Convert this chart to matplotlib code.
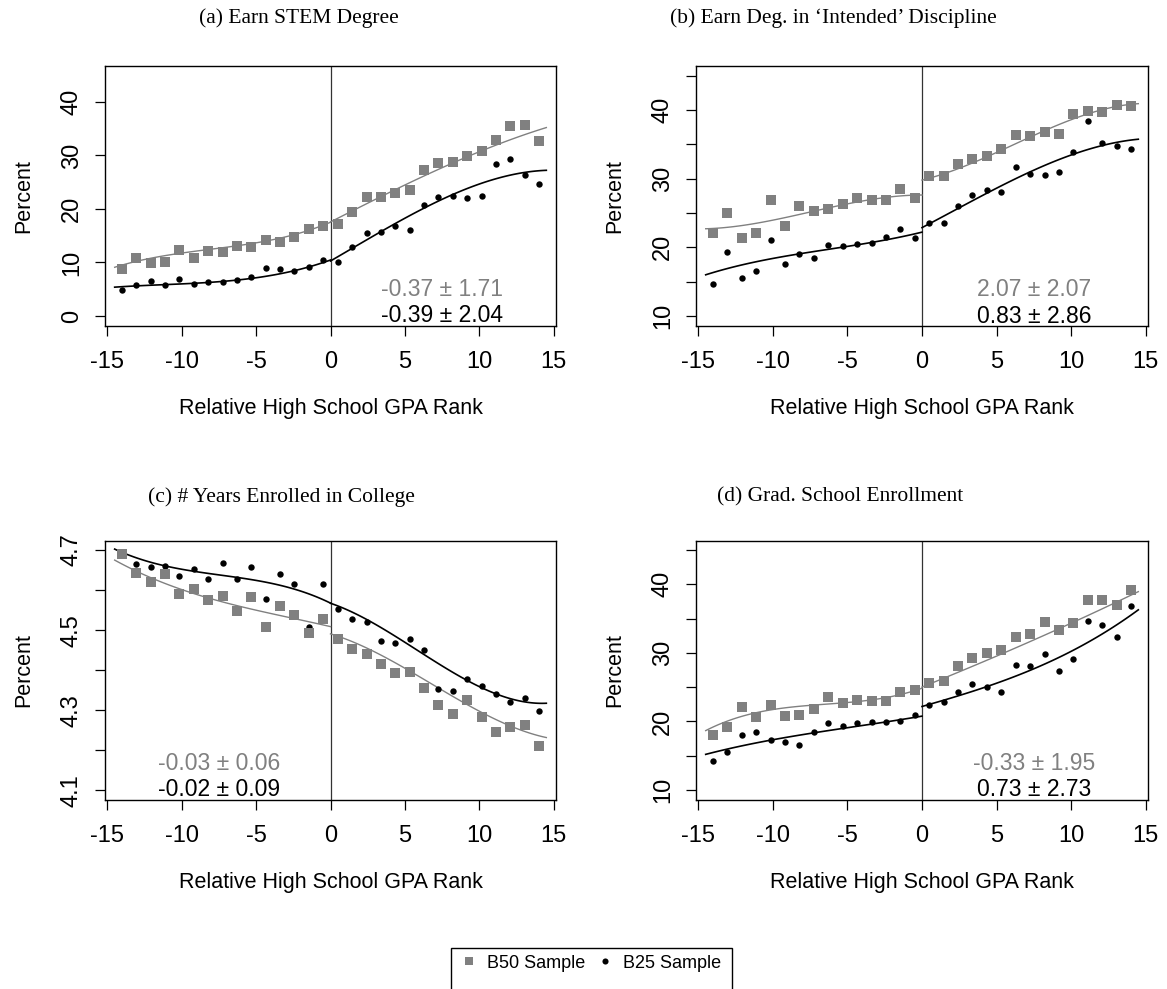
"""
Regression-discontinuity panels: four outcomes by relative high school GPA rank,
B50 sample (gray squares) vs B25 sample (black dots), with fitted curves.
"""

import numpy as np
import matplotlib
matplotlib.use("Agg")
import matplotlib.pyplot as plt
from matplotlib.lines import Line2D
from matplotlib.patches import Rectangle

plt.rcParams["font.family"] = ["Liberation Sans", "DejaVu Sans"]

# bin centres on the running variable
X_LEFT = [-14.02, -13.05, -12.08, -11.12, -10.15, -9.18, -8.22, -7.25,
          -6.28, -5.32, -4.35, -3.38, -2.42, -1.45, -0.48]
X_RIGHT = [0.48, 1.45, 2.42, 3.38, 4.35, 5.32, 6.28, 7.25,
           8.22, 9.18, 10.15, 11.12, 12.08, 13.05, 14.02]

KNOTS_LEFT = [-14.5, -10, -7.5, -5, -2.5, 0]
KNOTS_RIGHT = [0, 2.5, 5, 7.5, 10, 12.5, 14.5]

# (a) Earn STEM degree
a_b50 = [8.75, 10.75, 9.9, 10.1, 12.4, 10.8, 12.2, 11.9, 13.1, 12.8, 14.2, 13.9, 14.8, 16.3, 16.8,
         17.25, 19.4, 22.25, 22.25, 22.9, 23.6, 27.3, 28.5, 28.7, 29.9, 30.9, 32.9, 35.5, 35.6, 32.6]
a_b25 = [4.9, 5.75, 6.6, 5.7, 6.9, 5.9, 6.3, 6.4, 6.8, 7.3, 8.9, 8.75, 8.4, 9.1, 10.5,
         10.1, 12.9, 15.5, 15.7, 16.75, 16.1, 20.8, 22.25, 22.4, 22.0, 22.4, 28.3, 29.4, 26.25, 24.75]
a_fit_b50_l = [9.1, 11.75, 12.7, 13.6, 15.2, 17.5]
a_fit_b50_r = [17.5, 21.3, 24.25, 27.7, 30.8, 33.3, 35.2]
a_fit_b25_l = [5.4, 5.9, 6.5, 7.2, 8.3, 10.5]
a_fit_b25_r = [10.2, 14.6, 18.0, 21.75, 24.9, 26.4, 27.25]

# (b) Earn degree in intended discipline
b_b50 = [22.06, 25.07, 21.42, 22.06, 26.82, 23.08, 26.04, 25.31, 25.51, 26.24, 27.16, 26.87, 26.87, 28.52, 27.21,
         30.32, 30.32, 32.12, 32.9, 33.34, 34.31, 36.35, 36.2, 36.79, 36.54, 39.36, 39.85, 39.75, 40.72, 40.53]
b_b25 = [14.62, 19.29, 15.54, 16.51, 21.04, 17.58, 18.99, 18.46, 20.4, 20.21, 20.5, 20.6, 21.57, 22.69, 21.42,
         23.51, 23.61, 26.09, 27.55, 28.28, 27.99, 31.63, 30.71, 30.52, 30.95, 33.82, 38.44, 35.18, 34.79, 34.31]
b_fit_b50_l = [22.7, 24.0, 25.1, 26.3, 27.3, 27.6]
b_fit_b50_r = [29.74, 31.68, 33.72, 36.15, 38.78, 40.19, 40.92]
b_fit_b25_l = [16.0, 18.4, 19.3, 20.1, 21.1, 22.2]
b_fit_b25_r = [22.9, 25.7, 28.6, 31.3, 33.5, 34.9, 35.8]

# (c) years enrolled in college
c_b50 = [4.689, 4.642, 4.621, 4.639, 4.590, 4.603, 4.574, 4.584, 4.548, 4.583, 4.508, 4.561, 4.537, 4.492, 4.527,
         4.479, 4.454, 4.440, 4.415, 4.394, 4.396, 4.356, 4.312, 4.290, 4.325, 4.283, 4.246, 4.258, 4.264, 4.210]
c_b25 = [4.688, 4.666, 4.658, 4.661, 4.634, 4.652, 4.627, 4.667, 4.627, 4.658, 4.578, 4.640, 4.614, 4.509, 4.615,
         4.552, 4.529, 4.521, 4.474, 4.469, 4.479, 4.451, 4.354, 4.349, 4.378, 4.361, 4.340, 4.320, 4.330, 4.298]
c_fit_b50_l = [4.675, 4.600, 4.575, 4.549, 4.529, 4.509]
c_fit_b50_r = [4.492, 4.450, 4.409, 4.350, 4.296, 4.255, 4.232]
c_fit_b25_l = [4.702, 4.654, 4.635, 4.625, 4.604, 4.567]
c_fit_b25_r = [4.567, 4.525, 4.471, 4.409, 4.359, 4.326, 4.317]

# (d) grad school enrollment
d_b50 = [17.97, 19.24, 22.06, 20.6, 22.4, 20.79, 20.94, 21.86, 23.51, 22.69, 23.17, 22.93, 22.98, 24.24, 24.54,
         25.61, 25.95, 28.08, 29.25, 30.03, 30.37, 32.31, 32.7, 34.45, 33.38, 34.36, 37.76, 37.66, 37.03, 39.12]
d_b25 = [14.28, 15.54, 18.02, 18.41, 17.24, 17.05, 16.51, 18.46, 19.82, 19.33, 19.72, 19.97, 19.97, 20.01, 20.89,
         22.35, 22.88, 24.29, 25.51, 25.0, 24.24, 28.28, 28.04, 29.88, 27.31, 29.15, 34.6, 34.06, 32.31, 36.79]
d_fit_b50_l = [18.65, 21.76, 22.3, 22.74, 23.47, 24.83]
d_fit_b50_r = [25.07, 27.11, 29.45, 32.12, 34.31, 36.64, 39.02]
d_fit_b25_l = [15.2, 17.29, 18.26, 19.14, 19.82, 20.79]
d_fit_b25_r = [22.15, 23.86, 25.46, 27.74, 30.18, 33.34, 36.25]

TITLES = ["(a) Earn STEM Degree",
          "(b) Earn Deg. in \u2018Intended\u2019 Discipline",
          "(c) # Years Enrolled in College",
          "(d) Grad. School Enrollment"]
ESTIMATES_B50 = ["-0.37 \u00b1 1.71", "2.07 \u00b1 2.07", "-0.03 \u00b1 0.06", "-0.33 \u00b1 1.95"]
ESTIMATES_B25 = ["-0.39 \u00b1 2.04", "0.83 \u00b1 2.86", "-0.02 \u00b1 0.09", "0.73 \u00b1 2.73"]

GRAY = "#808080"
W, H = 1167, 989


def smooth_fit(knots, vals, lo, hi):
    coef = np.polyfit(knots, vals, 3)
    xs = np.linspace(lo, hi, 120)
    return xs, np.polyval(coef, xs)


def draw_panel(ax, b50, b25, fits, ylim, yticks, ylabels, text_xy):
    x = X_LEFT + X_RIGHT
    (g_l, g_r, k_l, k_r) = fits
    for knots, vals, lo, hi, col, lw in [
        (KNOTS_LEFT, g_l, -14.5, 0, GRAY, 1.0),
        (KNOTS_RIGHT, g_r, 0, 14.5, GRAY, 1.0),
        (KNOTS_LEFT, k_l, -14.5, 0, "black", 1.2),
        (KNOTS_RIGHT, k_r, 0, 14.5, "black", 1.2),
    ]:
        xs, ys = smooth_fit(knots, vals, lo, hi)
        ax.plot(xs, ys, color=col, lw=lw, zorder=2)
    ax.plot(x, b25, "o", color="black", ms=4.6, mew=0, zorder=3)
    ax.plot(x, b50, "s", color=GRAY, ms=6.6, mew=0, zorder=4)
    ax.axvline(0, color="#333333", lw=0.9, zorder=1)

    ax.set_xlim(-15.15, 15.15)
    ax.set_ylim(*ylim)
    ax.set_xticks([-15, -10, -5, 0, 5, 10, 15])
    ax.set_xticklabels(["-15", "-10", "-5", "0", "5", "10", "15"])
    ax.set_yticks(yticks)
    ax.set_yticklabels(ylabels, rotation=90, va="center")
    ax.tick_params(direction="out", length=7, width=0.9, labelsize=17)
    ax.tick_params(axis="x", pad=11)
    ax.tick_params(axis="y", pad=9)
    for sp in ax.spines.values():
        sp.set_linewidth(1.0)
    ax.set_xlabel("Relative High School GPA Rank", fontsize=15.5, labelpad=18)
    ax.set_ylabel("Percent", fontsize=15.5, labelpad=19)

    tx, ty_g, ty_k, est_g, est_k = text_xy
    ax.text(tx, ty_g, est_g, color=GRAY, fontsize=16.5, ha="center", va="center")
    ax.text(tx, ty_k, est_k, color="black", fontsize=16.5, ha="center", va="center")


def main():
    fig = plt.figure(figsize=(W / 100, H / 100), dpi=100)
    boxes = [(105, 66, 556, 326), (696, 66, 1148, 326),
             (105, 541, 556, 800), (696, 541, 1148, 800)]
    axes = [fig.add_axes([l / W, 1 - b / H, (r - l) / W, (b - t) / H]) for (l, t, r, b) in boxes]

    pct_ticks_a = [0, 10, 20, 30, 40]
    pct_ticks = [10, 15, 20, 25, 30, 35, 40, 45]
    pct_labels = ["10", "", "20", "", "30", "", "40", ""]

    draw_panel(axes[0], a_b50, a_b25, (a_fit_b50_l, a_fit_b50_r, a_fit_b25_l, a_fit_b25_r),
               (-1.87, 46.7), pct_ticks_a, [str(v) for v in pct_ticks_a],
               (7.5, 5.0, 0.0, ESTIMATES_B50[0], ESTIMATES_B25[0]))
    draw_panel(axes[1], b_b50, b_b25, (b_fit_b50_l, b_fit_b50_r, b_fit_b25_l, b_fit_b25_r),
               (8.55, 46.4), pct_ticks, pct_labels,
               (7.5, 13.9, 10.0, ESTIMATES_B50[1], ESTIMATES_B25[1]))
    draw_panel(axes[2], c_b50, c_b25, (c_fit_b50_l, c_fit_b50_r, c_fit_b25_l, c_fit_b25_r),
               (4.076, 4.7225), [4.1, 4.2, 4.3, 4.4, 4.5, 4.6, 4.7],
               ["4.1", "", "4.3", "", "4.5", "", "4.7"],
               (-7.5, 4.166, 4.102, ESTIMATES_B50[2], ESTIMATES_B25[2]))
    draw_panel(axes[3], d_b50, d_b25, (d_fit_b50_l, d_fit_b50_r, d_fit_b25_l, d_fit_b25_r),
               (8.54, 46.3), pct_ticks, pct_labels,
               (7.5, 13.8, 10.1, ESTIMATES_B50[3], ESTIMATES_B25[3]))

    title_pos = [(299, 18), (833, 18), (281, 497), (840, 497)]
    for (tx, ty), title in zip(title_pos, TITLES):
        fig.text(tx / W, 1 - ty / H, title, ha="center", va="center",
                 fontsize=15.5, family=["Liberation Serif", "DejaVu Serif"])

    # legend box runs past the bottom edge of the figure, as in the source
    fig.patches.append(Rectangle((451 / W, -0.05), (732 - 451) / W, 0.05 + 1 - 948 / H,
                                 transform=fig.transFigure, fill=False,
                                 edgecolor="black", lw=1.0, clip_on=False))
    handles = [Line2D([], [], ls="none", marker="s", color=GRAY, ms=6.0, mew=0),
               Line2D([], [], ls="none", marker="o", color="black", ms=4.4, mew=0)]
    fig.legend(handles, ["B50 Sample", "B25 Sample"], ncol=2, loc="center",
               bbox_to_anchor=(591.5 / W, 1 - 963 / H), frameon=False,
               fontsize=13, handlelength=0.8, handletextpad=0.6, columnspacing=0.7,
               borderpad=0.2, borderaxespad=0)

    fig.savefig("out.png", dpi=100)
    plt.close(fig)


if __name__ == "__main__":
    main()
